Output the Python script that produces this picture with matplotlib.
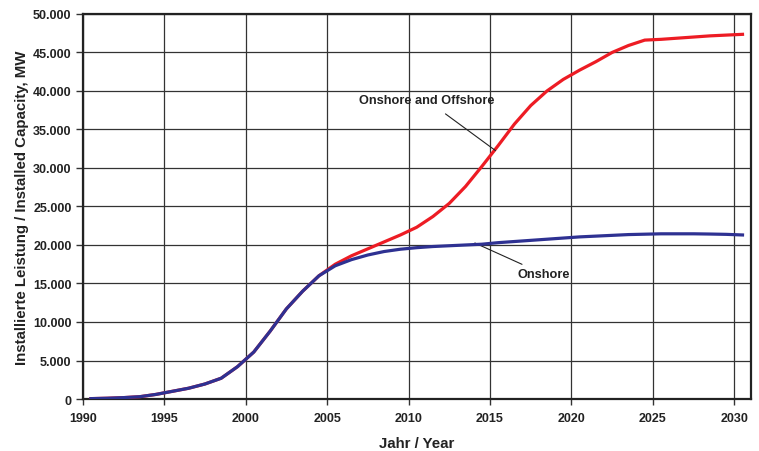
import numpy as np
import matplotlib.pyplot as plt
from matplotlib.ticker import FuncFormatter

plt.rcParams['font.family'] = ['Liberation Sans', 'DejaVu Sans']
plt.rcParams['font.weight'] = 'bold'

# years (points sit at mid-year)
years = list(range(1990, 2031))

onshore = [50, 100, 180, 300, 600, 1000, 1400, 1950, 2700, 4200,
           6100, 8800, 11700, 14000, 16000, 17300, 18100, 18700, 19150, 19450,
           19650, 19800, 19900, 20000, 20100, 20300, 20450, 20600, 20750, 20900,
           21050, 21150, 21250, 21350, 21400, 21450, 21450, 21450, 21420, 21380,
           21300]

on_offshore = [50, 100, 180, 300, 600, 1000, 1400, 1950, 2700, 4200,
               6100, 8800, 11700, 14000, 16000, 17500, 18600, 19500, 20400, 21300,
               22300, 23700, 25400, 27600, 30200, 32900, 35700, 38100, 40000, 41500,
               42700, 43800, 45000, 45900, 46600, 46700, 46850, 47000, 47150, 47250,
               47350]

x = np.array(years) + 0.5

fig = plt.figure(figsize=(7.59, 4.52), dpi=100)
ax = fig.add_axes([0.109, 0.115, 0.880, 0.852])

ax.plot(x, on_offshore, color='#ED1C24', lw=2.3, solid_joinstyle='round', zorder=3)
ax.plot(x, onshore, color='#2E3192', lw=2.3, solid_joinstyle='round', zorder=4)

ax.set_xlim(1990, 2031)
ax.set_ylim(0, 50000)
ax.set_xticks(range(1990, 2031, 5))
ax.set_yticks(range(0, 50001, 5000))
ax.yaxis.set_major_formatter(FuncFormatter(lambda v, p: f"{int(v):,}".replace(",", ".")))
ax.grid(True, color='#333333', lw=0.9)
ax.set_axisbelow(True)
for s in ax.spines.values():
    s.set_linewidth(1.6)
    s.set_color('#222222')
ax.tick_params(axis='y', labelsize=9, width=1, length=5, color='#333333', pad=3)
ax.tick_params(axis='x', labelsize=9, width=1, length=4, color='#333333', pad=5)
for lab in ax.get_xticklabels() + ax.get_yticklabels():
    lab.set_fontweight('bold')
    lab.set_color('#222222')

ax.set_xlabel('Jahr / Year', fontsize=10.8, fontweight='bold', labelpad=9, color='#222222')
ax.set_ylabel('Installierte Leistung / Installed Capacity, MW', fontsize=10.8,
              fontweight='bold', labelpad=3, color='#222222')

ax.annotate('Onshore and Offshore', xy=(2015.34, 32250), xytext=(2011.12, 38800),
            ha='center', va='center', fontsize=9.2, fontweight='bold', color='#222222',
            arrowprops=dict(arrowstyle='-', color='#222222', lw=0.8,
                            shrinkA=6, shrinkB=0))
ax.annotate('Onshore', xy=(2014.07, 20260), xytext=(2016.7, 16200),
            ha='left', va='center', fontsize=9.2, fontweight='bold', color='#222222',
            arrowprops=dict(arrowstyle='-', color='#222222', lw=0.8,
                            shrinkA=2, shrinkB=0))

fig.savefig('out.png', dpi=100)
